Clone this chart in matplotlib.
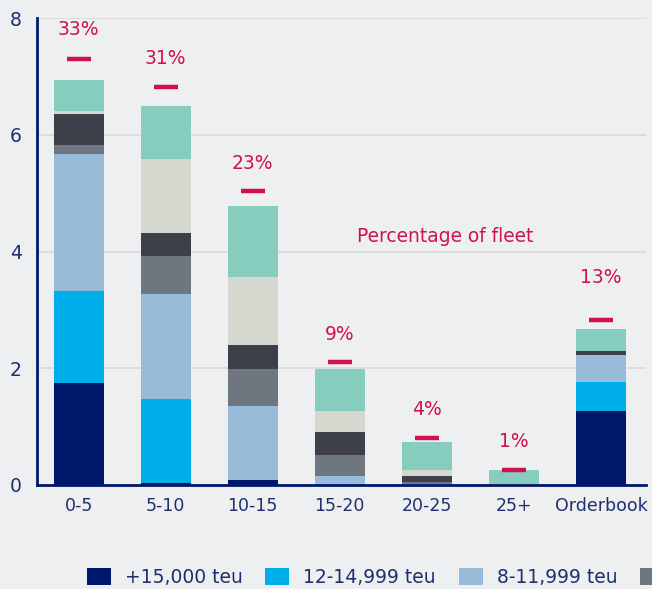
import numpy as np
import matplotlib
matplotlib.use("Agg")
import matplotlib.pyplot as plt

# categories (vessel age in years) and stacked series (million teu)
categories = ['0-5', '5-10', '10-15', '15-20', '20-25', '25+', 'Orderbook']
series_names = ['+15,000 teu', '12-14,999 teu', '8-11,999 teu', '5-7,999 teu',
                '3-4,999 teu', '1-2,999 teu', '<1,000 teu']
navy      = [1.74, 0.03, 0.09, 0.00, 0.00, 0.00, 1.26]
cyan      = [1.58, 1.44, 0.00, 0.00, 0.00, 0.00, 0.50]
lightblue = [2.35, 1.80, 1.27, 0.16, 0.02, 0.00, 0.46]
gray      = [0.15, 0.65, 0.62, 0.35, 0.03, 0.00, 0.00]
dark      = [0.54, 0.39, 0.41, 0.39, 0.10, 0.00, 0.07]
lightgrey = [0.05, 1.27, 1.17, 0.36, 0.11, 0.02, 0.00]
teal      = [0.53, 0.91, 1.22, 0.72, 0.48, 0.23, 0.39]

# percentage of fleet markers
pct_labels = ['33%', '31%', '23%', '9%', '4%', '1%', '13%']
pct_marker = [7.30, 6.81, 5.03, 2.11, 0.81, 0.26, 2.83]
pct_text_y = [7.80, 7.30, 5.50, 2.58, 1.30, 0.75, 3.55]

colors = ['#00186B', '#00AEEA', '#99BBDA', '#6E7680', '#3D4049', '#D5D8CF', '#87CDBE']
bg = '#EEEFF1'
axis_col = '#00186B'
text_col = '#1F2F6E'
red = '#D0104F'

fig = plt.figure(figsize=(6.52, 5.89), dpi=100, facecolor=bg)
ax = fig.add_axes([0.0567, 0.1766, 0.9343, 0.7928], facecolor=bg)

x = np.arange(len(categories))
bottom = np.zeros(len(categories))
handles = []
for name, vals, c in zip(series_names, [navy, cyan, lightblue, gray, dark, lightgrey, teal], colors):
    b = ax.bar(x, vals, 0.57, bottom=bottom, color=c, label=name, zorder=3)
    handles.append(b)
    bottom += np.array(vals)

ax.scatter(x, pct_marker, marker='_', s=290, linewidths=3.2, color=red, zorder=4)
for xi, yv, lab in zip(x, pct_text_y, pct_labels):
    ax.text(xi, yv, lab, ha='center', va='center', color=red, fontsize=13.5)
ax.text(3.2, 4.25, 'Percentage of fleet', ha='left', va='center', color=red, fontsize=13.4)

ax.set_xlim(-0.48, 6.52)
ax.set_ylim(0, 8)
ax.set_yticks([0, 2, 4, 6, 8])
ax.set_xticks(x)
ax.set_xticklabels(categories)
ax.tick_params(axis='both', length=0, labelsize=12.5, colors=text_col)
ax.tick_params(axis='x', pad=9)
ax.tick_params(axis='y', pad=11, labelsize=13.5)
ax.grid(axis='y', color='#D8D9DC', linewidth=1.2, zorder=0)
for s in ['top', 'right']:
    ax.spines[s].set_visible(False)
ax.spines['left'].set_color(axis_col)
ax.spines['left'].set_linewidth(2)
ax.spines['bottom'].set_color(axis_col)
ax.spines['bottom'].set_linewidth(2)
ax.spines['bottom'].set_zorder(5)

# legend runs off the right edge in the original; only the first four keys show
leg_labels = series_names[:3] + ['']
leg = fig.legend(handles=handles[:4], labels=leg_labels, loc='center left',
                 bbox_to_anchor=(0.1334, 0.02), ncol=4, frameon=False, fontsize=13.5,
                 handlelength=1.28, handleheight=1.07, handletextpad=0.75,
                 columnspacing=1.2, borderaxespad=0, borderpad=0)
for t in leg.get_texts():
    t.set_color(text_col)

fig.savefig('out.png', dpi=100, facecolor=bg)
